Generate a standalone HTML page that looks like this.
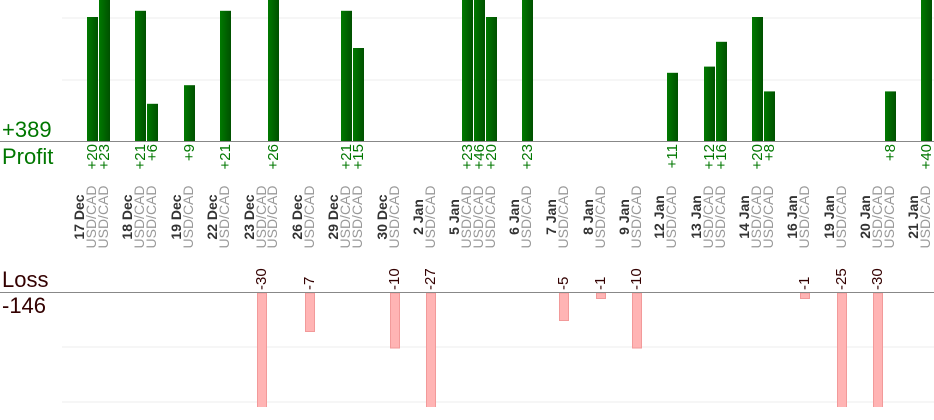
<!DOCTYPE html>
<html><head><meta charset="utf-8"><style>
html,body{margin:0;padding:0;background:#fff;width:934px;height:420px;overflow:hidden}
svg{display:block;font-family:"Liberation Sans",sans-serif}
.v{font-size:15px;fill:#070}
.l{font-size:15px;fill:#300}
.d{font-size:14px;font-weight:bold;fill:#333}
.u{font-size:14px;fill:#999}
</style></head><body>
<svg width="934" height="420" viewBox="0 0 934 420" xmlns="http://www.w3.org/2000/svg">
<defs>
<linearGradient id="g" x1="0" x2="1"><stop offset="0" stop-color="#007a00"/><stop offset="1" stop-color="#005000"/></linearGradient>
</defs>
<line x1="62" y1="80" x2="934" y2="80" stroke="#eee"/>
<line x1="62" y1="18" x2="934" y2="18" stroke="#eee"/>
<line x1="62" y1="347" x2="934" y2="347" stroke="#eee"/>
<line x1="62" y1="402" x2="934" y2="402" stroke="#eee"/>
<g id="bars"></g>
<rect x="0" y="407" width="934" height="13" fill="#fff"/>
<line x1="0" y1="141.5" x2="934" y2="141.5" stroke="#888"/>
<line x1="0" y1="292.5" x2="934" y2="292.5" stroke="#888"/>
<text x="2" y="137" font-size="22" fill="#070">+389</text>
<text x="2" y="164" font-size="22" fill="#070">Profit</text>
<text x="2" y="287" font-size="22" fill="#300">Loss</text>
<text x="2" y="313" font-size="22" fill="#300">-146</text>
<g id="txt"></g>
</svg>
<script>
var days=[
["17 Dec",[[87,20],[99,23]]],
["18 Dec",[[135,21],[147,6]]],
["19 Dec",[[184,9]]],
["22 Dec",[[220,21]]],
["23 Dec",[[257,-30],[268,26]]],
["26 Dec",[[305,-7]]],
["29 Dec",[[341,21],[353,15]]],
["30 Dec",[[390,-10]]],
["2 Jan",[[426,-27]]],
["5 Jan",[[462,23],[474,46],[486,20]]],
["6 Jan",[[522,23]]],
["7 Jan",[[559,-5]]],
["8 Jan",[[596,-1]]],
["9 Jan",[[632,-10]]],
["12 Jan",[[667,11]]],
["13 Jan",[[704,12],[716,16]]],
["14 Jan",[[752,20],[764,8]]],
["16 Jan",[[800,-1]]],
["19 Jan",[[837,-25]]],
["20 Jan",[[873,-30],[885,8]]],
["21 Jan",[[921,40]]]];
var b='',t='';
days.forEach(function(d){
 var x0=d[1][0][0];
 t+='<text class="d" text-anchor="middle" transform="translate('+(x0-3)+',217) rotate(-90)">'+d[0]+'</text>';
 d[1].forEach(function(p){
  var x=p[0],v=p[1];
  t+='<text class="u" text-anchor="middle" transform="translate('+(x+9)+',217) rotate(-90)">USD/CAD</text>';
  if(v>0){var h=v*6.2;b+='<rect x="'+x+'" y="'+(141-h)+'" width="11" height="'+h+'" fill="url(#g)"/>';
   t+='<text class="v" text-anchor="end" transform="translate('+(x+10)+',144) rotate(-90)">+'+v+'</text>';}
  else{var h=-v*5.5;b+='<rect x="'+(x+0.5)+'" y="293" width="9" height="'+h+'" fill="#ffb4b4" stroke="#f29a9a"/>';
   t+='<text class="l" text-anchor="start" transform="translate('+(x+9)+',290) rotate(-90)">'+v+'</text>';}
 });
});
document.getElementById('bars').innerHTML=b;
document.getElementById('txt').innerHTML=t;
</script>
</body></html>
